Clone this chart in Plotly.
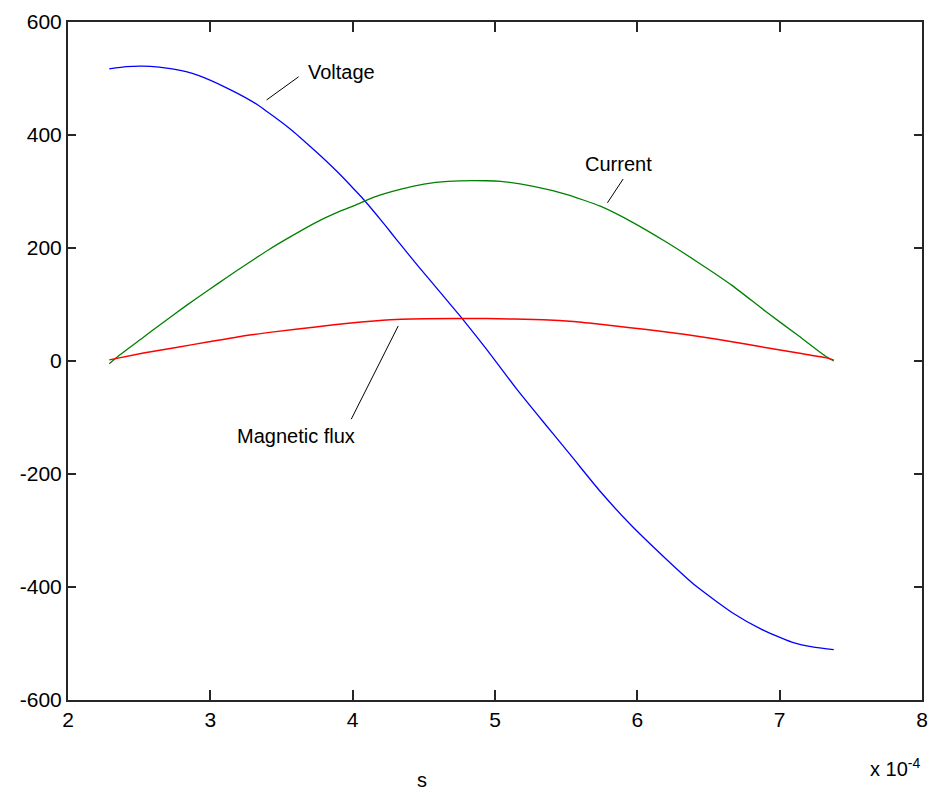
import plotly.graph_objects as go

# ---- data (time in units of 1e-4 s) ----
voltage_t = [2.29, 2.41, 2.52, 2.64, 2.83, 2.92, 3.11, 3.29, 3.39, 3.57, 3.71, 3.78, 3.92, 4.04,
             4.08, 4.20, 4.27, 4.34, 4.46, 4.62, 4.76, 4.94, 5.15, 5.34, 5.53, 5.60, 5.74, 5.95,
             6.20, 6.41, 6.67, 6.88, 7.08, 7.25, 7.38]
voltage_v = [517, 521, 522, 520, 512, 505, 484, 460, 443, 409, 378, 362, 328, 296,
             285, 249, 227, 205, 168, 120, 78, 21, -49, -108, -166, -188, -231, -289,
             -350, -398, -446, -476, -497, -507, -511]

current_t = [2.29, 2.36, 2.53, 2.64, 2.83, 2.99, 3.11, 3.27, 3.41, 3.57, 3.74, 3.92, 4.04, 4.15,
             4.34, 4.50, 4.67, 4.94, 5.04, 5.27, 5.50, 5.74, 5.97, 6.20, 6.43, 6.67, 6.90,
             7.13, 7.32, 7.38]
current_a = [-5, 10, 42, 63, 98, 126, 147, 174, 197, 221, 245, 266, 278, 290,
             304, 313, 318, 319, 318, 309, 295, 274, 245, 211, 174, 133, 88,
             45, 9, 0]

flux_t = [2.29, 2.53, 2.76, 2.99, 3.22, 3.46, 3.74, 3.97, 4.15, 4.34, 4.94, 5.34, 5.55, 5.74,
          5.95, 6.15, 6.34, 6.55, 6.76, 6.94, 7.13, 7.32, 7.38]
flux_w = [2, 14, 24, 34, 44, 52, 60, 67, 71, 74, 75, 73, 70, 65,
          59, 53, 47, 39, 30, 22, 14, 6, 2]

x_ticks = [2, 3, 4, 5, 6, 7, 8]
y_ticks = [-600, -400, -200, 0, 200, 400, 600]

# annotation labels: text, label position, pointer line (from, to)
labels = ["Voltage", "Current", "Magnetic flux"]
label_x = [3.92, 5.87, 3.60]
label_y = [512, 349, -133]
ptr_x0 = [3.62, 5.90, 3.99]
ptr_y0 = [503, 322, -103]
ptr_x1 = [3.395, 5.79, 4.32]
ptr_y1 = [462, 280, 62]

FONT = "Liberation Sans, Arial, sans-serif"

fig = go.Figure()
fig.add_trace(go.Scatter(x=voltage_t, y=voltage_v, mode="lines", name="Voltage",
                         line=dict(color="#0000ff", width=1.3, shape="spline", smoothing=0.5)))
fig.add_trace(go.Scatter(x=current_t, y=current_a, mode="lines", name="Current",
                         line=dict(color="#008000", width=1.3, shape="spline", smoothing=0.5)))
fig.add_trace(go.Scatter(x=flux_t, y=flux_w, mode="lines", name="Magnetic flux",
                         line=dict(color="#ff0000", width=1.5, shape="spline", smoothing=0.5)))

for i, txt in enumerate(labels):
    fig.add_shape(type="line", xref="x", yref="y",
                  x0=ptr_x0[i], y0=ptr_y0[i], x1=ptr_x1[i], y1=ptr_y1[i],
                  line=dict(color="black", width=1))
    fig.add_annotation(x=label_x[i], y=label_y[i], xref="x", yref="y", text=txt,
                       showarrow=False, font=dict(family=FONT, size=20, color="black"))

fig.add_annotation(x=1.0, y=-0.1, xref="paper", yref="paper", xanchor="right", yanchor="middle",
                   text="x 10<sup>-4</sup>", showarrow=False,
                   font=dict(family=FONT, size=20, color="black"))
fig.add_annotation(x=0.415, y=-0.118, xref="paper", yref="paper", xanchor="center", yanchor="middle",
                   text="s", showarrow=False, font=dict(family=FONT, size=20, color="black"))

axis_common = dict(showgrid=False, zeroline=False, showline=True, linecolor="#262626",
                   linewidth=2, mirror="ticks", ticks="inside", tickcolor="#262626",
                   tickwidth=2, tickfont=dict(family=FONT, size=21, color="black"))

fig.update_xaxes(range=[2, 8], tickvals=x_ticks, ticktext=[str(v) for v in x_ticks],
                 ticklen=10, **axis_common)
fig.update_yaxes(range=[-600, 600], tickvals=y_ticks, ticktext=[str(v) for v in y_ticks],
                 ticklen=8, **axis_common)

fig.update_layout(width=935, height=792, showlegend=False,
                  margin=dict(l=68, r=7, t=22, b=92),
                  paper_bgcolor="white", plot_bgcolor="white")

fig.write_html("out.html")
